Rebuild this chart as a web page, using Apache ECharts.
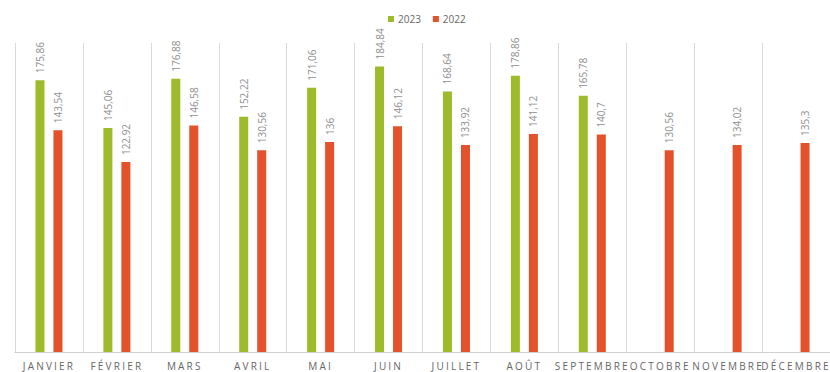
<!DOCTYPE html>
<html>
<head>
<meta charset="utf-8">
<script src="https://cdn.jsdelivr.net/npm/echarts@6/dist/echarts.min.js"></script>
<style>
  html, body { margin: 0; padding: 0; background: #fff; }
  #chart { width: 830px; height: 372px; }
</style>
</head>
<body>
<div id="chart"></div>
<script>
// Monthly values, two years side by side
const months = ['JANVIER', 'FÉVRIER', 'MARS', 'AVRIL', 'MAI', 'JUIN', 'JUILLET', 'AOÛT', 'SEPTEMBRE', 'OCTOBRE', 'NOVEMBRE', 'DÉCEMBRE'];
const values2023 = [175.86, 145.06, 176.88, 152.22, 171.06, 184.84, 168.64, 178.86, 165.78, null, null, null];
const values2022 = [143.54, 122.92, 146.58, 130.56, 136, 146.12, 133.92, 141.12, 140.7, 130.56, 134.02, 135.3];

const GREEN = '#9dbb2b';
const RED = '#e3522a';
const FONT = '"Open Sans", "DejaVu Sans", sans-serif';

const frenchNumber = v => String(v).replace('.', ',');

const valueLabel = {
  show: true,
  position: 'top',
  rotate: 90,
  align: 'left',
  verticalAlign: 'middle',
  distance: 7,
  color: '#8f8f8f',
  fontSize: 10,
  fontFamily: FONT,
  formatter: p => frenchNumber(p.value)
};

const chart = echarts.init(document.getElementById('chart'), null, { renderer: 'svg' });
chart.setOption({
  animation: false,
  backgroundColor: '#ffffff',
  legend: {
    left: 383,
    top: 9,
    itemWidth: 6,
    itemHeight: 6,
    itemGap: 12,
    icon: 'rect',
    textStyle: { color: '#666666', fontSize: 10, fontFamily: FONT, padding: [0, 0, 0, -1] },
    data: ['2023', '2022']
  },
  grid: { left: 15, right: -5, top: 43, bottom: 20, containLabel: false },
  xAxis: {
    type: 'category',
    data: months,
    boundaryGap: true,
    axisLine: { show: true, lineStyle: { color: '#d0d0d0', width: 1 } },
    axisTick: { show: false },
    splitLine: { show: true, interval: 0, lineStyle: { color: '#d9d9d9', width: 1 } },
    axisLabel: {
      interval: 0,
      margin: 9,
      color: '#666666',
      fontSize: 10,
      fontFamily: FONT
    }
  },
  yAxis: {
    type: 'value',
    min: 0,
    max: 200,
    show: false,
    splitLine: { show: false }
  },
  series: [
    {
      name: '2023',
      type: 'bar',
      data: values2023,
      barWidth: 9,
      barGap: '100%',
      itemStyle: { color: GREEN },
      label: valueLabel
    },
    {
      name: '2022',
      type: 'bar',
      data: values2022,
      barWidth: 9,
      barGap: '100%',
      itemStyle: { color: RED },
      label: valueLabel
    }
  ]
});

// Widely tracked month names under the axis
function trackMonthLabels() {
  document.querySelectorAll('#chart text').forEach(t => {
    if (months.includes(t.textContent.trim())) {
      t.style.letterSpacing = '2.2px';
    }
  });
}
trackMonthLabels();
chart.on('finished', trackMonthLabels);
</script>
</body>
</html>
